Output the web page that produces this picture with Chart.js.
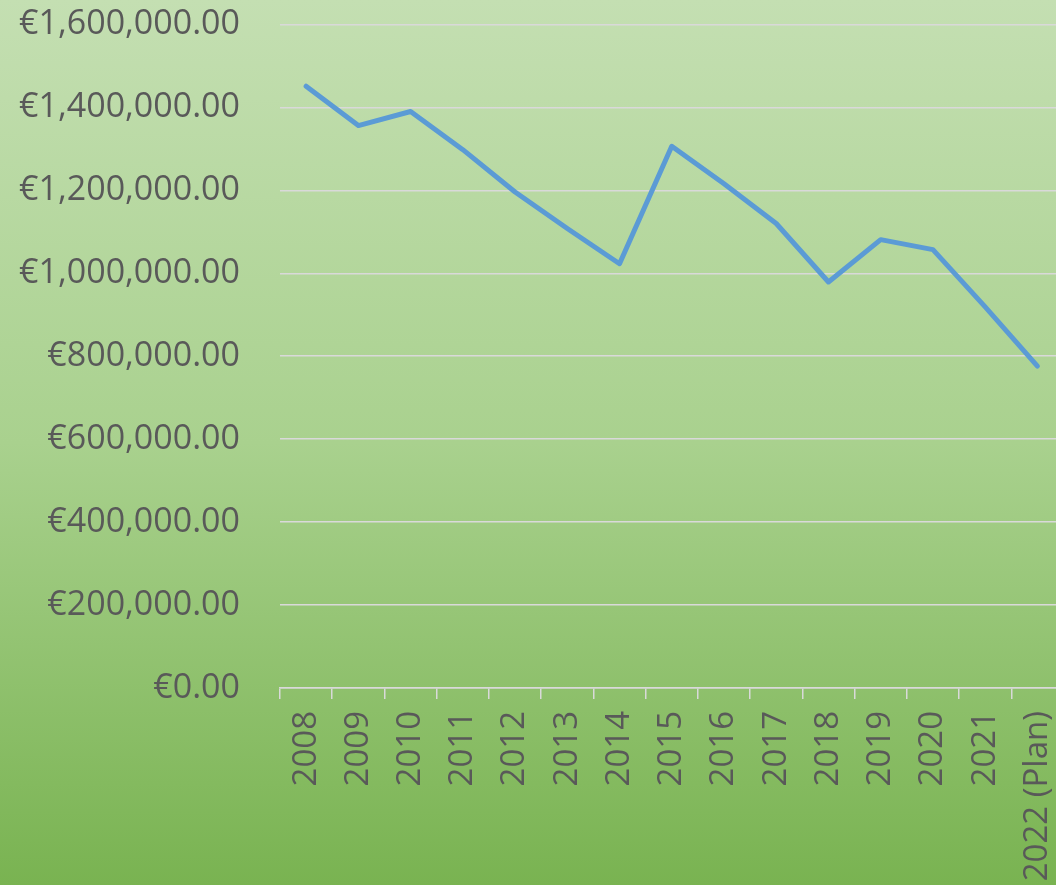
<!DOCTYPE html>
<html>
<head>
<meta charset="utf-8">
<script src="https://cdn.jsdelivr.net/npm/chart.js@4"></script>
<style>
  html, body {
    margin: 0;
    padding: 0;
    width: 1056px;
    height: 885px;
    overflow: hidden;
  }
  body {
    background: linear-gradient(to bottom, #c4dfb2 0%, #a9d18e 50%, #79b351 100%);
  }
  #wrap {
    position: absolute;
    left: 0;
    top: 0;
    width: 1089px;
    height: 885px;
  }
</style>
</head>
<body>
<div id="wrap"><canvas id="chart" width="1089" height="885"></canvas></div>
<script>
// Data
const years = ['2008', '2009', '2010', '2011', '2012', '2013', '2014', '2015',
               '2016', '2017', '2018', '2019', '2020', '2021', '2022 (Plan)'];
const amounts = [1451000, 1356000, 1390000, 1298000, 1196000, 1108000, 1023000, 1306000,
                 1216000, 1120000, 979000, 1081000, 1057000, 919000, 776000];

// Axis settings
const Y_MIN = 0;
const Y_MAX = 1600000;
const Y_STEP = 200000;

const TEXT_COLOR = '#595959';
const GRID_COLOR = '#d9d9d9';
const FONT_FAMILY = "'Open Sans', sans-serif";

const euro = new Intl.NumberFormat('en-US', { minimumFractionDigits: 2, maximumFractionDigits: 2 });

const ctx = document.getElementById('chart');

new Chart(ctx, {
  type: 'line',
  data: {
    labels: years,
    datasets: [{
      label: 'Amount',
      data: amounts,
      borderColor: '#5b9bd5',
      borderWidth: 5,
      borderCapStyle: 'round',
      borderJoinStyle: 'round',
      pointRadius: 0,
      tension: 0,
      fill: false
    }]
  },
  options: {
    responsive: false,
    animation: false,
    layout: {
      padding: 0
    },
    plugins: {
      legend: { display: false },
      tooltip: { enabled: false }
    },
    scales: {
      x: {
        offset: true,
        grid: {
          offset: true,
          drawOnChartArea: false,
          drawTicks: true,
          tickLength: 11,
          color: GRID_COLOR,
          lineWidth: 1.5
        },
        border: { display: true, color: GRID_COLOR, width: 1.5 },
        ticks: {
          color: TEXT_COLOR,
          font: { family: FONT_FAMILY, size: 33 },
          minRotation: 90,
          maxRotation: 90,
          autoSkip: false,
          padding: 12
        },
        afterFit: scale => { scale.height = 197; }
      },
      y: {
        min: Y_MIN,
        max: Y_MAX,
        grid: {
          color: GRID_COLOR,
          lineWidth: 1.5,
          // invisible ticks keep the labels away from the plot
          drawTicks: true,
          tickLength: 36,
          tickColor: 'transparent'
        },
        border: { display: false },
        ticks: {
          stepSize: Y_STEP,
          color: TEXT_COLOR,
          font: { family: FONT_FAMILY, size: 34 },
          padding: 4,
          callback: v => '€' + euro.format(v)
        },
        afterFit: scale => { scale.width = 280; }
      }
    }
  }
});
</script>
</body>
</html>
